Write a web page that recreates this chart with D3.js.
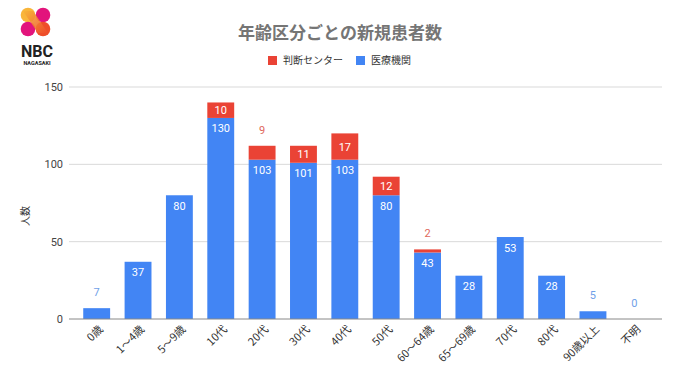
<!DOCTYPE html>
<html><head><meta charset="utf-8">
<script src="https://cdn.jsdelivr.net/npm/d3@7"></script>
<style>body{margin:0;background:#fff}svg{display:block;font-family:"Noto Sans CJK JP","Noto Sans",Roboto,sans-serif}</style>
</head><body><svg id="c" width="680" height="382"></svg>
<script>
const categories = ["0歳","1〜4歳","5〜9歳","10代","20代","30代","40代","50代","60〜64歳","65〜69歳","70代","80代","90歳以上","不明"];
const iryoKikan = [7,37,80,130,103,101,103,80,43,28,53,28,5,0];
const handanCenter = [0,0,0,10,9,11,17,12,2,0,0,0,0,0];
const yTicks = [0,50,100,150];
const seriesNames = ["判断センター","医療機関"];

const RED = "#EA4335", BLUE = "#4285F4";
const svg = d3.select("#c");

const x = d3.scaleBand().domain(categories).range([76,655]).paddingInner(0.35).paddingOuter(0.175);
const y = d3.scaleLinear().domain([0,150]).range([319,87]);

// gridlines
svg.append("g").selectAll("line").data(yTicks.filter(d=>d>0)).join("line")
  .attr("x1",69).attr("x2",662).attr("y1",d=>y(d)).attr("y2",d=>y(d))
  .attr("stroke","#d9d9d9").attr("stroke-width",1);

// y axis labels
const yAxis = d3.axisLeft(y).tickValues(yTicks).tickSize(0).tickPadding(0);
const ya = svg.append("g").attr("transform","translate(63,0)").call(yAxis);
ya.select(".domain").remove();
ya.selectAll("text").attr("font-size",11).attr("fill","#444").attr("font-family","Roboto,sans-serif");

// bars
const gB = svg.append("g");
categories.forEach((c,i)=>{
  const b = iryoKikan[i], r = handanCenter[i];
  if (b>0) gB.append("rect").attr("x",x(c)).attr("width",x.bandwidth())
     .attr("y",y(b)).attr("height",y(0)-y(b)).attr("fill",BLUE);
  if (r>0) gB.append("rect").attr("x",x(c)).attr("width",x.bandwidth())
     .attr("y",y(b+r)).attr("height",y(b)-y(b+r)).attr("fill",RED);
});

// labels
const gL = svg.append("g").attr("font-family","Roboto,sans-serif").attr("font-size",11).attr("text-anchor","middle");
categories.forEach((c,i)=>{
  const cx = x(c)+x.bandwidth()/2;
  const b = iryoKikan[i], r = handanCenter[i];
  const bh = y(0)-y(b);
  if (bh >= 15) gL.append("text").attr("x",cx).attr("y",y(b)+14.5).attr("fill","#fff").text(b);
  else gL.append("text").attr("x",cx).attr("y",y(b+r)-12).attr("fill","#6fa0e8").text(b);
  if (r>0) {
    const rh = y(b)-y(b+r);
    if (rh >= 15) gL.append("text").attr("x",cx).attr("y",(y(b)+y(b+r))/2+4).attr("fill","#fff").text(r);
    else gL.append("text").attr("x",cx).attr("y",y(b+r)-12).attr("fill","#e0685c").text(r);
  }
});

// baseline
svg.append("line").attr("x1",69).attr("x2",662).attr("y1",y(0)).attr("y2",y(0)).attr("stroke","#888").attr("stroke-width",1);

// x labels
const xa = svg.append("g").attr("font-size",11).attr("fill","#333").attr("text-anchor","end");
categories.forEach(c=>{
  const cx = x(c)+x.bandwidth()/2 + 7;
  xa.append("text").attr("transform",`translate(${cx},${330}) rotate(-45)`).text(c);
});

// y title
svg.append("text").attr("transform","translate(29,216) rotate(-90)").attr("text-anchor","middle")
  .attr("font-size",10).attr("fill","#333").text("人数");

// title
svg.append("text").attr("x",340).attr("y",39).attr("text-anchor","middle").attr("font-size",17)
  .attr("font-weight","bold").attr("fill","#757575").text("年齢区分ごとの新規患者数");

// legend
const leg = [{n:seriesNames[0],c:RED,x:268},{n:seriesNames[1],c:BLUE,x:356}];
leg.forEach(l=>{
  svg.append("rect").attr("x",l.x).attr("y",56).attr("width",9).attr("height",9).attr("fill",l.c);
  svg.append("text").attr("x",l.x+15).attr("y",64).attr("font-size",10).attr("fill","#333").text(l.n);
});

// logo
const lg = svg.append("g");
const defs = svg.append("defs");
const gr = defs.append("linearGradient").attr("id","lgd").attr("x1","0").attr("y1","0").attr("x2","1").attr("y2","1");
gr.append("stop").attr("offset","0").attr("stop-color","#F7B538");
gr.append("stop").attr("offset","1").attr("stop-color","#EE4B2B");
lg.append("circle").attr("cx",28).attr("cy",15).attr("r",7.3).attr("fill","#F9B53A");
lg.append("circle").attr("cx",43).attr("cy",15).attr("r",7.3).attr("fill","#E2147C");
lg.append("circle").attr("cx",28).attr("cy",29).attr("r",7.3).attr("fill","#E2147C");
lg.append("circle").attr("cx",43).attr("cy",29).attr("r",7.3).attr("fill","#EE4E2A");
lg.append("path").attr("d","M23,11 L33,11 L48,33 L38,33 Z").attr("fill","url(#lgd)").attr("opacity",0.9);
svg.append("text").attr("x",37).attr("y",57).attr("text-anchor","middle").attr("font-size",16)
  .attr("font-weight","bold").attr("font-family","Roboto,sans-serif").attr("fill","#222").text("NBC");
svg.append("text").attr("x",37).attr("y",65).attr("text-anchor","middle").attr("font-size",5.5)
  .attr("font-weight","bold").attr("font-family","Roboto,sans-serif").attr("fill","#222").text("NAGASAKI");
</script></body></html>
